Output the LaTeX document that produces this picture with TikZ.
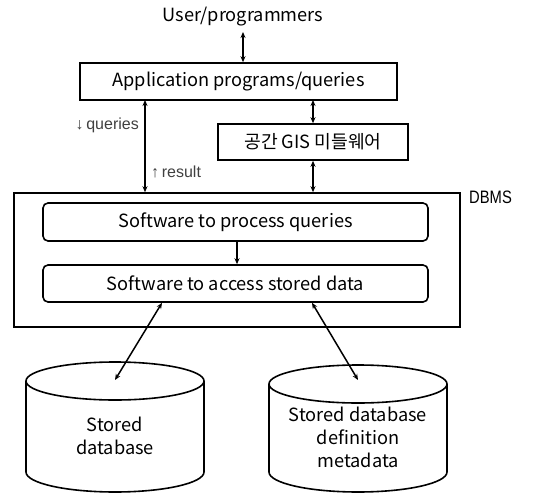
\documentclass[tikz,border=0pt]{standalone}
\usepackage{fontspec}
\setmainfont{Noto Sans CJK KR}
\newfontfamily\lblfont{Liberation Sans}
\usetikzlibrary{arrows.meta}
\begin{document}
\begin{tikzpicture}[x=1pt,y=-1pt,
  box/.style={draw,line width=1.6pt,inner sep=0pt,font=\fontsize{18.2}{21}\selectfont},
  rbox/.style={box,rounded corners=5pt},
  dbl/.style={line width=1.5pt,{Stealth[length=6pt,width=5pt]}-{Stealth[length=6pt,width=5pt]}},
  one/.style={line width=1.5pt,-{Stealth[length=6pt,width=5pt]}},
  lbl/.style={font=\lblfont\fontsize{16}{18}\selectfont,text=black!75,inner sep=0pt},
  cyl/.style={line width=1.6pt},
  ctext/.style={font=\fontsize{18.2}{23}\selectfont,align=center,inner sep=0pt}]
\useasboundingbox (0,0) rectangle (533,493);
\node[inner sep=0pt,font=\fontsize{18.2}{21}\selectfont] (user) at (243,17) {User/programmers};
\node[box,minimum width=317pt,minimum height=37pt] (app) at (238.5,81.5) {Application programs/queries};
\node[box,minimum width=190pt,minimum height=36pt] (gis) at (313,142) {공간 GIS 미들웨어};
\node[draw,line width=1.6pt,minimum width=446pt,minimum height=134pt,inner sep=0pt] (dbms) at (237,260) {};
\node[inner sep=0pt,anchor=west,font=\lblfont\fontsize{18}{20}\selectfont,text=black] (dbmsl) at (469,197) {\scalebox{0.82}[1]{DBMS}};
\node[rbox,minimum width=385pt,minimum height=38pt] (proc) at (235.5,222) {Software to process queries};
\node[rbox,minimum width=385pt,minimum height=37pt] (acc) at (235.5,283.5) {Software to access stored data};
\coordinate (ua) at (243,32);
\draw[dbl] (ua) -- (app.north -| ua);
\coordinate (lq) at (145,100);
\draw[dbl] (lq) -- (lq |- dbms.north);
\coordinate (rq) at (313,100);
\draw[dbl] (rq) -- (gis.north);
\draw[dbl] (gis.south) -- (gis.south |- dbms.north);
\node[lbl,anchor=east] (q) at (139,125) {↓\,queries};
\node[lbl,anchor=west] (r) at (151,172) {↑\,result};
\draw[one] (proc.south -| 237,0) -- (acc.north -| 237,0);
% cylinders
\draw[cyl] (115,381) ellipse [x radius=89pt, y radius=19pt];
\draw[cyl] (26,381) -- (26,472) arc[start angle=180,end angle=360,x radius=89pt,y radius=20pt] -- (204,381);
\draw[cyl] (358,384) ellipse [x radius=89pt, y radius=19pt];
\draw[cyl] (269,384) -- (269,472) arc[start angle=180,end angle=360,x radius=89pt,y radius=20pt] -- (447,384);
\node[ctext] (sd) at (115,436) {Stored\\database};
\node[ctext] (sm) at (358,437) {Stored database\\definition\\metadata};
\coordinate (c1) at (115,380);
\coordinate (c2) at (358,380);
\draw[dbl] (acc.south -| 162,0) -- (c1);
\draw[dbl] (acc.south -| 312,0) -- (c2);
\end{tikzpicture}
\end{document}
